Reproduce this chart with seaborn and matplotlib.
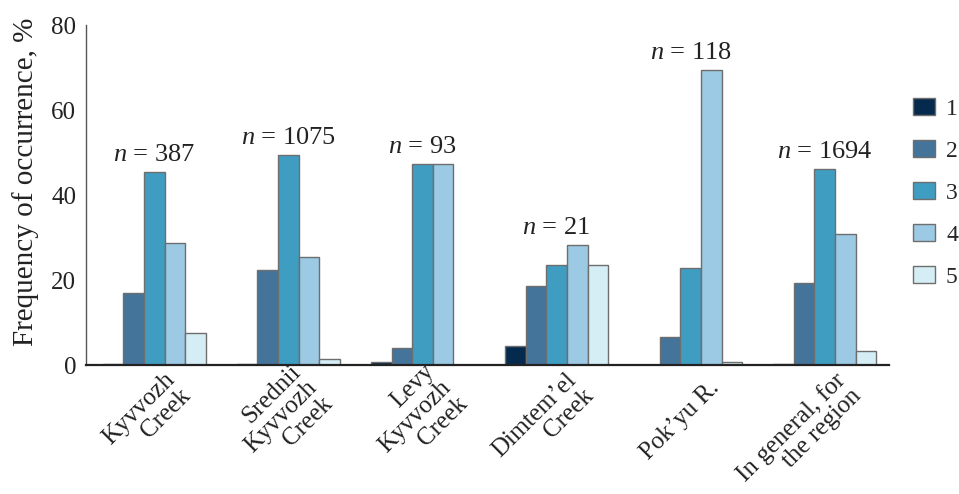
import matplotlib
matplotlib.use("Agg")
import matplotlib.pyplot as plt
import numpy as np
import pandas as pd
import seaborn as sns
from matplotlib.transforms import ScaledTranslation

# Sites along the x axis
sites = [
    "Kyvvozh\nCreek",
    "Srednii\nKyvvozh\nCreek",
    "Levy\nKyvvozh\nCreek",
    "Dimtem\u2019el\nCreek",
    "Pok\u2019yu R.",
    "In general, for\nthe region",
]
classes = ["1", "2", "3", "4", "5"]

# Frequency of occurrence (%) of each class at each site
freq_1 = [0.2, 0.2, 0.8, 4.5, 0.0, 0.2]
freq_2 = [17.0, 22.3, 3.9, 18.7, 6.6, 19.2]
freq_3 = [45.5, 49.3, 47.2, 23.5, 22.9, 46.2]
freq_4 = [28.6, 25.5, 47.2, 28.3, 69.5, 30.8]
freq_5 = [7.5, 1.5, 0.0, 23.5, 0.8, 3.3]

# Sample size per site
sample_sizes = [387, 1075, 93, 21, 118, 1694]

palette = ["#062a4e", "#45749a", "#3f9dc2", "#9ccae4", "#d5edf5"]

rows = []
for cls, vals in zip(classes, [freq_1, freq_2, freq_3, freq_4, freq_5]):
    for site, v in zip(sites, vals):
        rows.append({"site": site, "cls": cls, "freq": v})
df = pd.DataFrame(rows)

sns.set_style("white")
plt.rcParams["font.family"] = ["Liberation Serif", "DejaVu Serif"]
plt.rcParams["mathtext.fontset"] = "custom"
plt.rcParams["mathtext.rm"] = "Liberation Serif"
plt.rcParams["mathtext.it"] = "Liberation Serif:italic"

fig = plt.figure(figsize=(9.59, 4.94), dpi=100)
ax = fig.add_axes([86 / 959, 1 - 365 / 494, (889 - 86) / 959, (365 - 25) / 494])

sns.barplot(
    data=df, x="site", y="freq", hue="cls", hue_order=classes, order=sites,
    palette=palette, saturation=1, width=0.77, edgecolor="#6e6e6e", linewidth=1.0,
    ax=ax, legend=True,
)

ax.set_ylim(0, 80)
ax.set_xlim(-0.51, 5.48)
ax.set_yticks([0, 20, 40, 60, 80])
ax.set_ylabel("Frequency of occurrence, %", fontsize=21, color="#222222")
ax.yaxis.set_label_coords(-0.058, 0.54)
ax.set_xlabel("")

ax.tick_params(axis="y", direction="in", length=8, width=1, color="#444444",
               labelsize=18, pad=7, labelcolor="#222222")
ax.tick_params(axis="x", length=0, labelsize=18, pad=14, labelcolor="#222222")

for s in ["top", "right"]:
    ax.spines[s].set_visible(False)
ax.spines["left"].set_color("#555555")
ax.spines["left"].set_linewidth(1.0)
ax.spines["bottom"].set_color("#222222")
ax.spines["bottom"].set_linewidth(1.6)

# Rotated multi-line site labels
offset = ScaledTranslation(0.25, 0, fig.dpi_scale_trans)
for lab in ax.get_xticklabels():
    lab.set_rotation(45)
    lab.set_ha("right")
    lab.set_va("center")
    lab.set_multialignment("right")
    lab.set_rotation_mode("anchor")
    lab.set_linespacing(1.05)
    lab.set_transform(lab.get_transform() + offset)

# Sample size above each group
vals = np.array([freq_1, freq_2, freq_3, freq_4, freq_5])
for i, n in enumerate(sample_sizes):
    top = vals[:, i].max()
    ax.annotate(f"$n$ = {n}", xy=(i, top), xytext=(0, 8), textcoords="offset points",
                ha="center", va="baseline", fontsize=19, color="#222222")

leg = ax.legend(
    loc="upper left", bbox_to_anchor=(913 / 959, 1 - 98 / 494),
    bbox_transform=fig.transFigure, frameon=False, fontsize=17,
    handlelength=0.95, handleheight=0.75, handletextpad=0.45, labelspacing=0.85,
    borderaxespad=0, borderpad=0,
)
for h in leg.legend_handles:
    h.set_edgecolor("#6e6e6e")
    h.set_linewidth(1.0)

fig.savefig("out.png", dpi=100)
